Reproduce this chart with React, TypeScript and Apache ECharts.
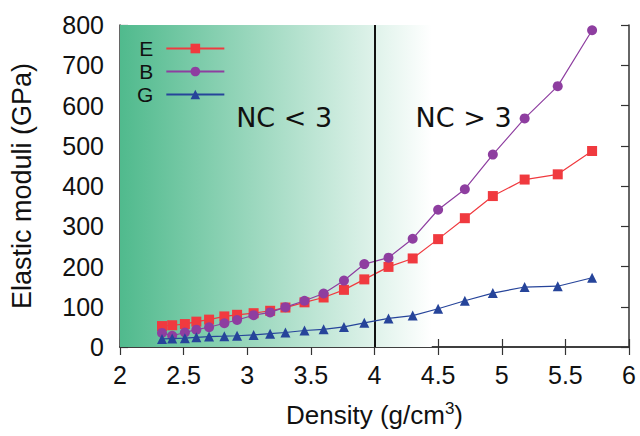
import React, { useEffect, useRef } from "react";
import * as echarts from "echarts";

const density = [2.33, 2.41, 2.51, 2.6, 2.7, 2.82, 2.92, 3.05, 3.18, 3.3, 3.45, 3.6, 3.76, 3.92, 4.11, 4.3, 4.5, 4.71, 4.93, 5.18, 5.44, 5.71];
const E = [52, 54, 57, 63, 68, 76, 80, 84, 90, 98, 111, 123, 142, 168, 199, 220, 268, 320, 375, 416, 429, 487];
const B = [35, 28, 36, 43, 49, 59, 67, 79, 86, 99, 115, 133, 165, 206, 222, 269, 341, 392, 478, 568, 648, 787];
const G = [20, 21, 22, 24, 26, 27, 28, 30, 33, 36, 41, 44, 50, 60, 71, 78, 95, 115, 134, 149, 151, 172];

const seriesNames = ["E", "B", "G"];
const seriesColors = ["#f03a3f", "#8e3ea0", "#26449a"];
const seriesSymbols = ["rect", "circle", "triangle"];
const regionLabels = ["NC < 3", "NC > 3"];
const regionLabelPos = [[3.29, 569], [4.7, 569]];
const boundary = 4;
const shadeEnd = 4.45;

const FONT = "'Liberation Sans', Arial, sans-serif";

export default function App() {
  const ref = useRef<HTMLDivElement>(null);
  useEffect(() => {
    const chart = echarts.init(ref.current!, null, { renderer: "svg" });
    const values = [E, B, G];
    const frame = { show: true, lineStyle: { color: "#333", width: 1.5 } };
    const tick = { show: true, inside: true, length: 8, lineStyle: { color: "#333", width: 1.2 } };
    const series: any[] = seriesNames.map((name, i) => ({
      name,
      type: "line",
      data: density.map((d, j) => [d, values[i][j]]),
      symbol: seriesSymbols[i],
      symbolSize: 10,
      lineStyle: { color: seriesColors[i], width: 1.2 },
      itemStyle: { color: seriesColors[i] },
      z: 3 + i,
    }));
    series[0].markArea = {
      silent: true,
      itemStyle: {
        color: new echarts.graphic.LinearGradient(0, 0, 1, 0, [
          { offset: 0, color: "#50ba8d" },
          { offset: 1, color: "#ffffff" },
        ]),
      },
      data: [[{ xAxis: 2 }, { xAxis: shadeEnd }]],
    };
    series[0].markLine = {
      silent: true,
      symbol: "none",
      label: { show: false },
      lineStyle: { color: "#111", width: 2, type: "solid" },
      data: [{ xAxis: boundary }],
    };
    series[0].markPoint = {
      silent: true,
      symbol: "circle",
      symbolSize: 0,
      label: {
        show: true,
        position: "inside",
        fontFamily: "'DejaVu Sans', sans-serif",
        fontSize: 27,
        color: "#111",
        formatter: (p: any) => p.name,
      },
      data: regionLabels.map((t, k) => ({ name: t, coord: regionLabelPos[k] })),
    };
    chart.setOption({
      animation: false,
      grid: { left: 119, right: 11, top: 25, bottom: 88 },
      legend: {
        orient: "vertical",
        left: 132,
        top: 33,
        align: "right",
        itemWidth: 58,
        itemHeight: 12,
        itemGap: 2,
        data: seriesNames,
        textStyle: { fontFamily: FONT, fontSize: 21, color: "#111", lineHeight: 19, padding: [0, 8, 0, 0] },
      },
      xAxis: [
        {
          type: "value",
          min: 2,
          max: 6,
          interval: 0.5,
          axisLine: frame,
          axisTick: tick,
          splitLine: { show: false },
          axisLabel: { fontFamily: FONT, fontSize: 25, color: "#111", margin: 15 },
          name: "{a|Density (g/cm}{s|3}{a|)}",
          nameLocation: "middle",
          nameGap: 53,
          nameTextStyle: {
            rich: {
              a: { fontFamily: FONT, fontSize: 26, color: "#111", lineHeight: 30 },
              s: { fontFamily: FONT, fontSize: 17, color: "#111", lineHeight: 30, verticalAlign: "top", padding: [0, 0, 14, 0] },
            },
          },
        },
        {
          type: "value",
          position: "top",
          min: 2,
          max: 6,
          interval: 0.5,
          axisLine: frame,
          axisTick: tick,
          splitLine: { show: false },
          axisLabel: { show: false },
        },
      ],
      yAxis: [
        {
          type: "value",
          min: 0,
          max: 800,
          interval: 100,
          axisLine: frame,
          axisTick: tick,
          splitLine: { show: false },
          axisLabel: { fontFamily: FONT, fontSize: 25, color: "#111", margin: 16 },
          name: "Elastic moduli (GPa)",
          nameLocation: "middle",
          nameGap: 85,
          nameTextStyle: { fontFamily: FONT, fontSize: 27, color: "#111" },
        },
        {
          type: "value",
          position: "right",
          min: 0,
          max: 800,
          interval: 100,
          axisLine: frame,
          axisTick: tick,
          splitLine: { show: false },
          axisLabel: { show: false },
        },
      ],
      series,
    });
    return () => chart.dispose();
  }, []);
  return <div ref={ref} style={{ width: 640, height: 436, position: "absolute", left: 0, top: 0 }} />;
}
